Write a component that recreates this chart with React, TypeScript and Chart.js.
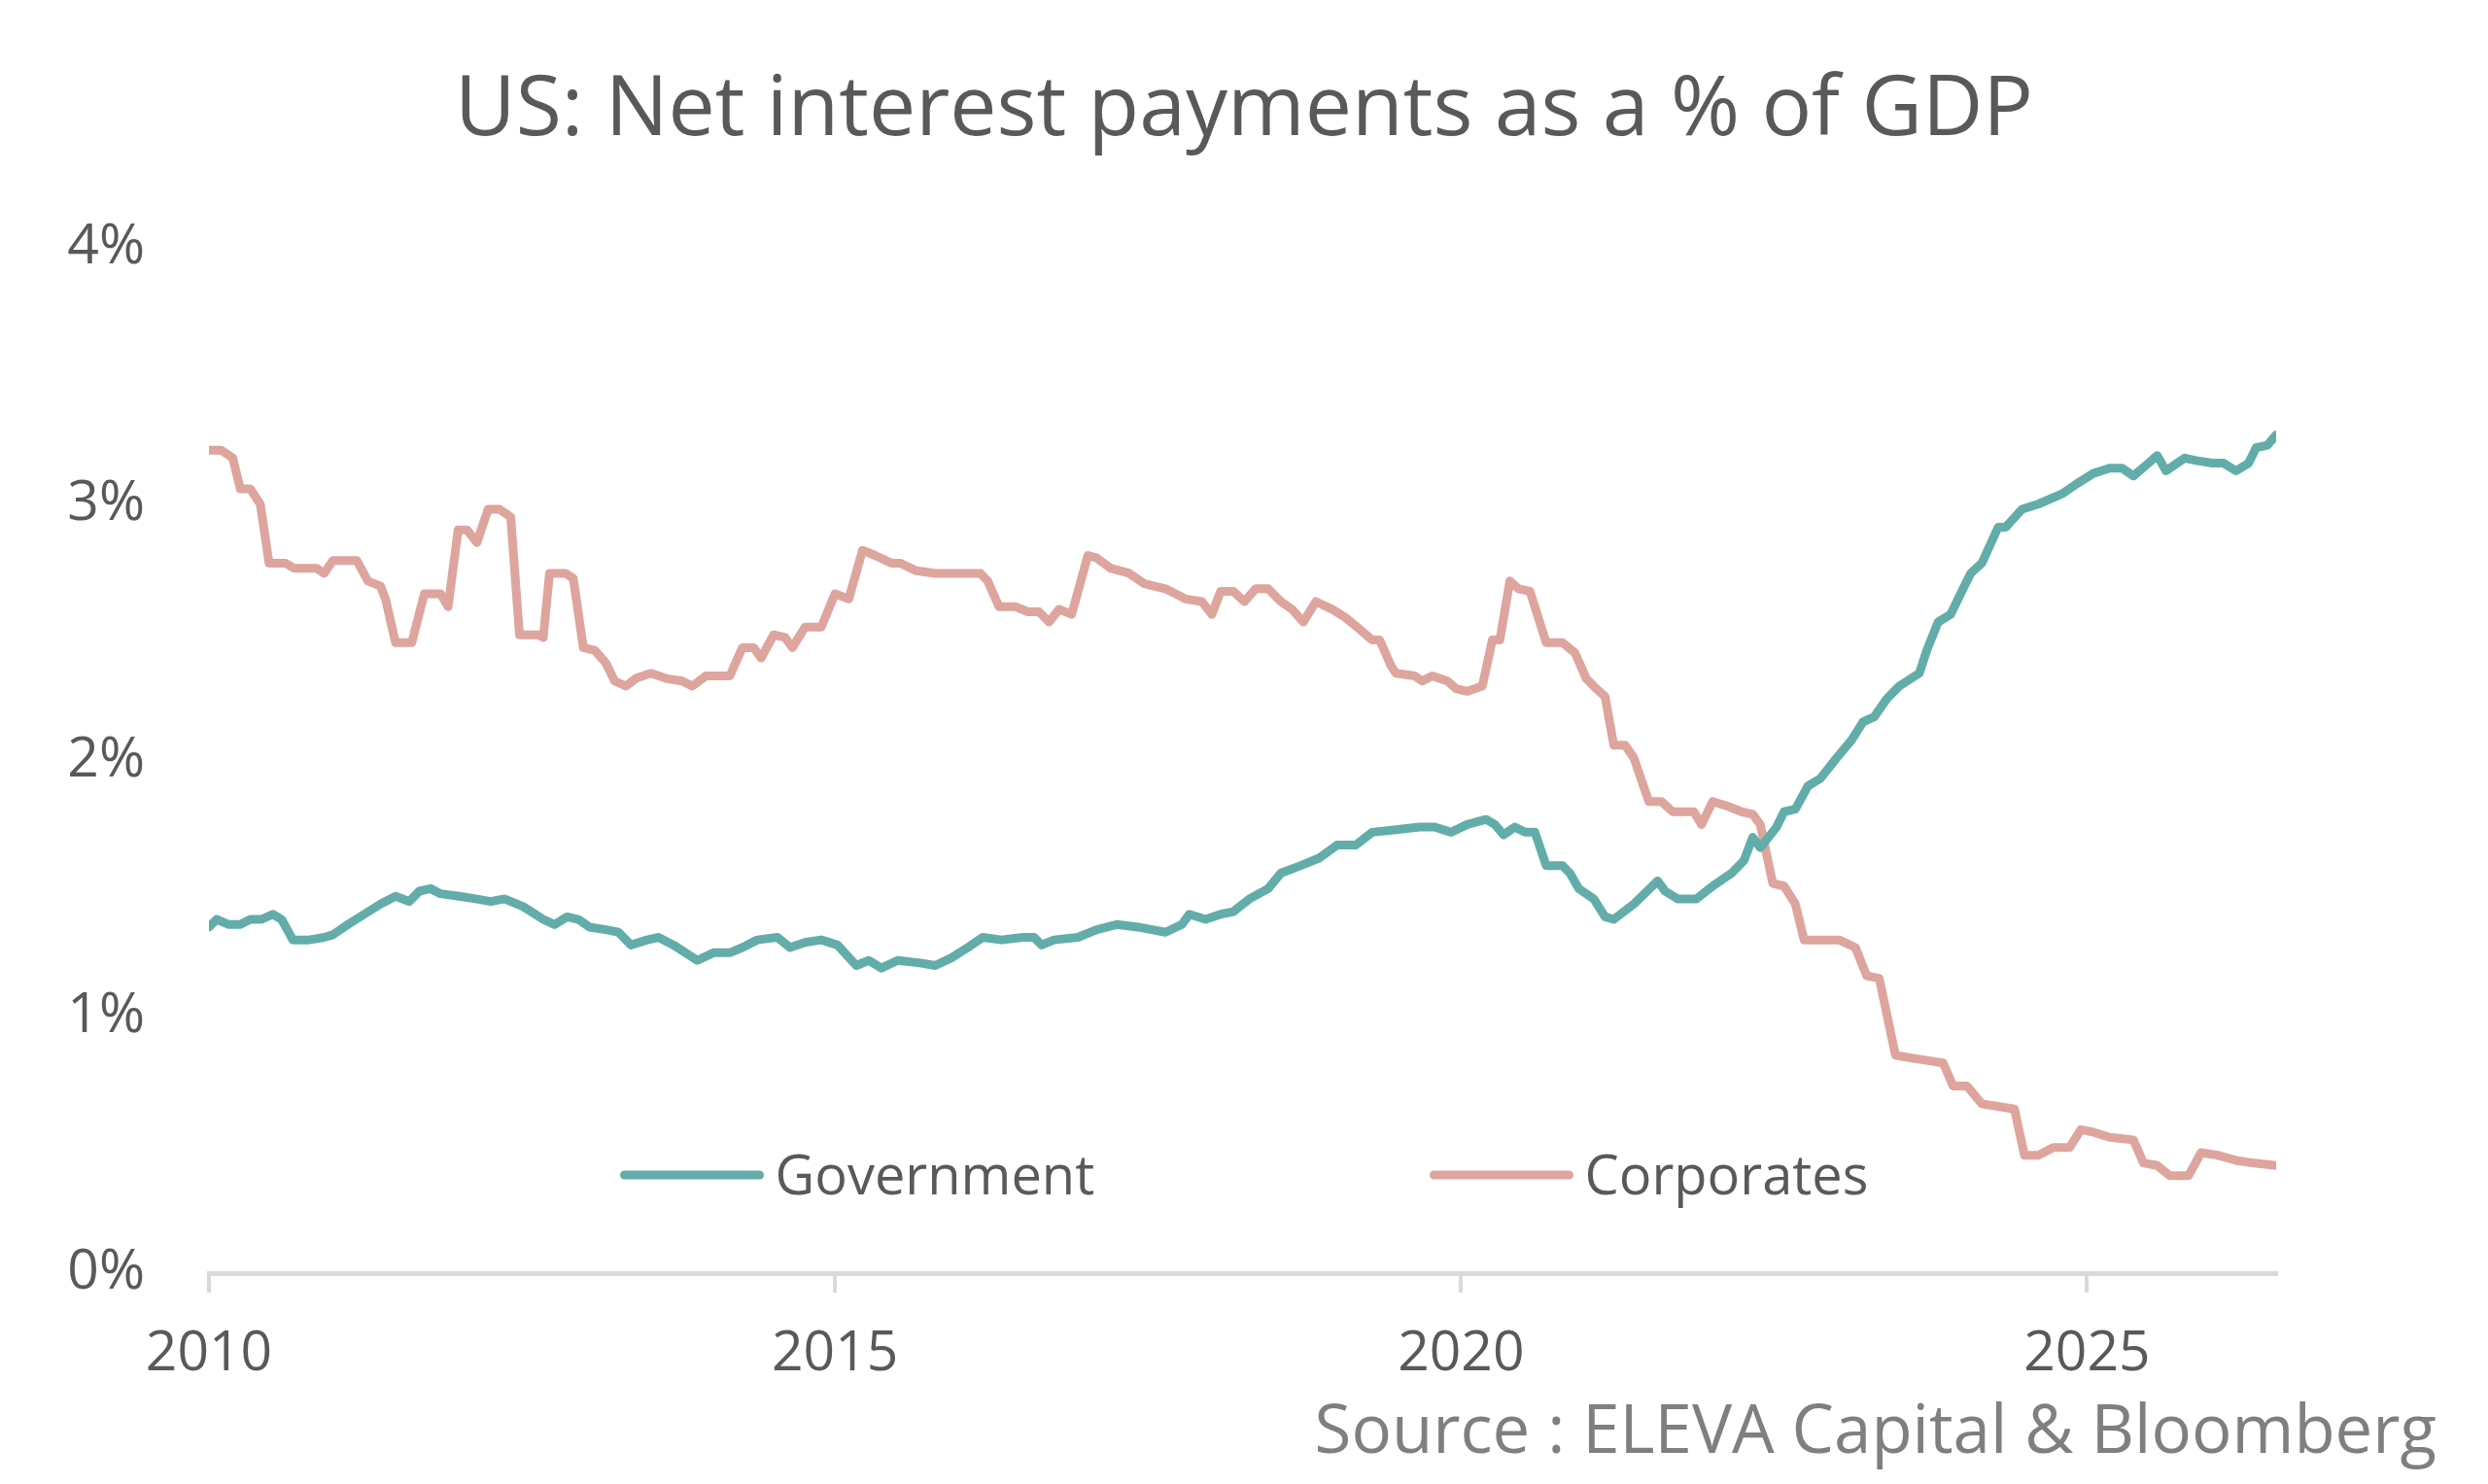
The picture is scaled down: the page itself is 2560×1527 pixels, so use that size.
import { useEffect, useRef } from 'react';
import { Chart, registerables, type Plugin } from 'chart.js';

Chart.register(...registerables);

const TITLE = 'US: Net interest payments as a % of GDP';
const SOURCE = 'Source : ELEVA Capital & Bloomberg';
const FONT = '"Open Sans", "Noto Sans", sans-serif';
const TEXT_COLOR = '#595959';

const xTicks = [2010, 2015, 2020, 2025];
const yTicks = [0, 1, 2, 3, 4];

// Government, % of GDP (decimal year -> value)
const govYears = [
  2010.0, 2010.06, 2010.16, 2010.25, 2010.33, 2010.42, 2010.51, 2010.58, 2010.67, 2010.8,
  2010.92, 2010.99, 2011.11, 2011.24, 2011.37, 2011.49, 2011.6, 2011.68, 2011.77, 2011.85,
  2012.0, 2012.13, 2012.25, 2012.36, 2012.51, 2012.67, 2012.76, 2012.86, 2012.95, 2013.04,
  2013.17, 2013.27, 2013.37, 2013.5, 2013.59, 2013.71, 2013.9, 2014.03, 2014.16, 2014.26,
  2014.38, 2014.54, 2014.64, 2014.76, 2014.89, 2015.02, 2015.17, 2015.27, 2015.37, 2015.5,
  2015.68, 2015.8, 2015.93, 2016.06, 2016.18, 2016.33, 2016.5, 2016.59, 2016.65, 2016.75,
  2016.94, 2017.09, 2017.25, 2017.42, 2017.64, 2017.77, 2017.83, 2017.96, 2018.08, 2018.18,
  2018.31, 2018.46, 2018.56, 2018.72, 2018.87, 2019.01, 2019.16, 2019.29, 2019.48, 2019.67,
  2019.79, 2019.92, 2020.05, 2020.2, 2020.27, 2020.34, 2020.43, 2020.51, 2020.59, 2020.68,
  2020.81, 2020.87, 2020.94, 2021.06, 2021.15, 2021.22, 2021.38, 2021.57, 2021.63, 2021.73,
  2021.88, 2022.01, 2022.16, 2022.26, 2022.33, 2022.39, 2022.52, 2022.58, 2022.67, 2022.77,
  2022.87, 2023.0, 2023.12, 2023.21, 2023.3, 2023.4, 2023.5, 2023.66, 2023.72, 2023.81,
  2023.91, 2024.01, 2024.07, 2024.16, 2024.29, 2024.35, 2024.48, 2024.61, 2024.8, 2024.92,
  2025.05, 2025.18, 2025.28, 2025.37, 2025.49, 2025.56, 2025.63, 2025.78, 2025.87, 2026.0,
  2026.09, 2026.19, 2026.29, 2026.35, 2026.44, 2026.51,
];
const govValues = [
  1.35, 1.38, 1.36, 1.36, 1.38, 1.38, 1.4, 1.38, 1.3, 1.3,
  1.31, 1.32, 1.36, 1.4, 1.44, 1.47, 1.45, 1.49, 1.5, 1.48,
  1.47, 1.46, 1.45, 1.46, 1.43, 1.38, 1.36, 1.39, 1.38, 1.35,
  1.34, 1.33, 1.28, 1.3, 1.31, 1.28, 1.22, 1.25, 1.25, 1.27,
  1.3, 1.31, 1.27, 1.29, 1.3, 1.28, 1.2, 1.22, 1.19, 1.22,
  1.21, 1.2, 1.23, 1.27, 1.31, 1.3, 1.31, 1.31, 1.28, 1.3,
  1.31, 1.34, 1.36, 1.35, 1.33, 1.36, 1.4, 1.38, 1.4, 1.41,
  1.46, 1.5, 1.56, 1.59, 1.62, 1.67, 1.67, 1.72, 1.73, 1.74,
  1.74, 1.72, 1.75, 1.77, 1.75, 1.71, 1.74, 1.72, 1.72, 1.59,
  1.59, 1.56, 1.5, 1.46, 1.39, 1.38, 1.44, 1.53, 1.49, 1.46,
  1.46, 1.51, 1.56, 1.61, 1.7, 1.66, 1.74, 1.8, 1.81, 1.9,
  1.93, 2.01, 2.08, 2.15, 2.17, 2.24, 2.29, 2.34, 2.43, 2.54,
  2.57, 2.67, 2.73, 2.77, 2.91, 2.91, 2.98, 3.0, 3.04, 3.08,
  3.12, 3.14, 3.14, 3.11, 3.16, 3.19, 3.13, 3.18, 3.17, 3.16,
  3.16, 3.13, 3.16, 3.22, 3.23, 3.27,
];

// Corporates, % of GDP (decimal year -> value)
const corpYears = [
  2010.0, 2010.1, 2010.19, 2010.25, 2010.33, 2010.41, 2010.48, 2010.61, 2010.68, 2010.86,
  2010.92, 2010.99, 2011.18, 2011.27, 2011.37, 2011.41, 2011.49, 2011.62, 2011.72, 2011.85,
  2011.91, 2011.99, 2012.06, 2012.14, 2012.23, 2012.32, 2012.41, 2012.48, 2012.63, 2012.67,
  2012.72, 2012.85, 2012.91, 2012.99, 2013.08, 2013.17, 2013.24, 2013.33, 2013.41, 2013.53,
  2013.65, 2013.78, 2013.86, 2013.97, 2014.16, 2014.26, 2014.35, 2014.41, 2014.51, 2014.6,
  2014.66, 2014.76, 2014.89, 2015.0, 2015.11, 2015.22, 2015.32, 2015.45, 2015.52, 2015.65,
  2015.8, 2016.16, 2016.22, 2016.31, 2016.44, 2016.54, 2016.63, 2016.71, 2016.79, 2016.89,
  2017.02, 2017.09, 2017.2, 2017.35, 2017.47, 2017.64, 2017.8, 2017.93, 2018.01, 2018.08,
  2018.18, 2018.27, 2018.36, 2018.46, 2018.56, 2018.65, 2018.74, 2018.84, 2018.97, 2019.07,
  2019.17, 2019.29, 2019.35, 2019.44, 2019.48, 2019.63, 2019.69, 2019.77, 2019.89, 2019.96,
  2020.05, 2020.17, 2020.25, 2020.31, 2020.39, 2020.46, 2020.55, 2020.68, 2020.81, 2020.91,
  2021.0, 2021.08, 2021.15, 2021.22, 2021.31, 2021.38, 2021.5, 2021.6, 2021.69, 2021.86,
  2021.92, 2022.01, 2022.14, 2022.24, 2022.33, 2022.39, 2022.49, 2022.58, 2022.67, 2022.74,
  2022.83, 2023.02, 2023.15, 2023.24, 2023.34, 2023.47, 2023.59, 2023.72, 2023.85, 2023.93,
  2024.04, 2024.16, 2024.29, 2024.42, 2024.5, 2024.61, 2024.73, 2024.86, 2024.95, 2025.05,
  2025.18, 2025.37, 2025.45, 2025.56, 2025.66, 2025.81, 2025.91, 2026.04, 2026.19, 2026.32,
  2026.51,
];
const corpValues = [
  3.21, 3.21, 3.18, 3.06, 3.06, 3.0, 2.77, 2.77, 2.75, 2.75,
  2.73, 2.78, 2.78, 2.7, 2.68, 2.63, 2.46, 2.46, 2.65, 2.65,
  2.6, 2.9, 2.9, 2.85, 2.98, 2.98, 2.95, 2.49, 2.49, 2.48,
  2.73, 2.73, 2.71, 2.44, 2.43, 2.38, 2.31, 2.29, 2.32, 2.34,
  2.32, 2.31, 2.29, 2.33, 2.33, 2.44, 2.44, 2.4, 2.49, 2.48,
  2.44, 2.52, 2.52, 2.65, 2.63, 2.82, 2.8, 2.77, 2.77, 2.74,
  2.73, 2.73, 2.7, 2.6, 2.6, 2.58, 2.58, 2.54, 2.59, 2.57,
  2.8, 2.79, 2.75, 2.73, 2.69, 2.67, 2.63, 2.62, 2.57, 2.66,
  2.66, 2.62, 2.67, 2.67, 2.62, 2.59, 2.54, 2.62, 2.59, 2.56,
  2.52, 2.47, 2.47, 2.37, 2.34, 2.33, 2.31, 2.33, 2.31, 2.28,
  2.27, 2.29, 2.47, 2.47, 2.7, 2.67, 2.66, 2.46, 2.46, 2.42,
  2.32, 2.28, 2.25, 2.06, 2.06, 2.01, 1.84, 1.84, 1.8, 1.8,
  1.75, 1.84, 1.82, 1.8, 1.79, 1.75, 1.52, 1.51, 1.44, 1.3,
  1.3, 1.3, 1.27, 1.16, 1.15, 0.85, 0.84, 0.83, 0.82, 0.73,
  0.73, 0.66, 0.65, 0.64, 0.46, 0.46, 0.49, 0.49, 0.56, 0.55,
  0.53, 0.52, 0.43, 0.42, 0.38, 0.38, 0.47, 0.46, 0.44, 0.43,
  0.42,
];

const GOV_COLOR = '#62ada9';
const CORP_COLOR = '#dda59e';

const toPoints = (xs: number[], ys: number[]) => xs.map((x, i) => ({ x, y: ys[i] }));

// title, legend inside the plot area and the source note, drawn on the canvas
const extrasPlugin: Plugin<'line'> = {
  id: 'extras',
  afterDraw(chart) {
    const { ctx, chartArea, width } = chart;
    ctx.save();

    ctx.font = `86px ${FONT}`;
    ctx.fillStyle = TEXT_COLOR;
    ctx.textAlign = 'center';
    ctx.textBaseline = 'alphabetic';
    ctx.fillText(TITLE, width / 2, 139);

    ctx.font = `56px ${FONT}`;
    ctx.textBaseline = 'middle';
    const lineLen = 147;
    const textGap = 12;
    const mid = (chartArea.left + chartArea.right) / 2;
    const starts = [mid - 640, mid + 193];
    const y = chartArea.bottom - 101;
    chart.data.datasets.forEach((ds, i) => {
      const x = starts[i];
      ctx.strokeStyle = ds.borderColor as string;
      ctx.lineWidth = 9;
      ctx.lineCap = 'round';
      ctx.beginPath();
      ctx.moveTo(x + 4, y);
      ctx.lineTo(x + lineLen - 4, y);
      ctx.stroke();
      ctx.fillStyle = TEXT_COLOR;
      ctx.textAlign = 'left';
      ctx.fillText(ds.label as string, x + lineLen + textGap, y + 4);
    });

    ctx.font = `69px ${FONT}`;
    ctx.fillStyle = '#7f7f7f';
    ctx.textAlign = 'right';
    ctx.textBaseline = 'alphabetic';
    ctx.fillText(SOURCE, 2507, 1495);
    ctx.restore();
  },
};

function LineChart() {
  const canvasRef = useRef<HTMLCanvasElement>(null);
  const chartRef = useRef<Chart | null>(null);

  useEffect(() => {
    if (!canvasRef.current) return;
    if (chartRef.current) {
      chartRef.current.destroy();
    }
    const ctx = canvasRef.current.getContext('2d');
    if (!ctx) return;

    chartRef.current = new Chart(ctx, {
      type: 'line',
      data: {
        datasets: [
          {
            label: 'Government',
            data: toPoints(govYears, govValues),
            borderColor: GOV_COLOR,
            backgroundColor: GOV_COLOR,
          },
          {
            label: 'Corporates',
            data: toPoints(corpYears, corpValues),
            borderColor: CORP_COLOR,
            backgroundColor: CORP_COLOR,
          },
        ],
      },
      options: {
        responsive: true,
        maintainAspectRatio: false,
        animation: false,
        layout: { padding: { top: 255, right: 218, bottom: 0, left: 0 } },
        elements: {
          point: { radius: 0 },
          line: { borderWidth: 9, tension: 0, borderJoinStyle: 'round', borderCapStyle: 'round' },
        },
        plugins: {
          legend: { display: false },
          tooltip: { enabled: false },
          title: { display: false },
        },
        scales: {
          x: {
            type: 'linear',
            min: 2010,
            max: 2026.51,
            afterBuildTicks: (scale) => {
              scale.ticks = xTicks.map((value) => ({ value }));
            },
            afterFit: (scale) => {
              scale.height = 217;
            },
            ticks: {
              color: TEXT_COLOR,
              font: { family: FONT, size: 57 },
              padding: 30,
              maxRotation: 0,
              callback: (v) => String(v),
            },
            grid: {
              drawOnChartArea: false,
              drawTicks: true,
              tickLength: 20,
              color: '#d9d9d9',
              lineWidth: 4,
            },
            border: { display: true, color: '#d9d9d9', width: 5 },
          },
          y: {
            min: 0,
            max: 4,
            afterBuildTicks: (scale) => {
              scale.ticks = yTicks.map((value) => ({ value }));
            },
            afterFit: (scale) => {
              scale.width = 215;
            },
            ticks: {
              color: TEXT_COLOR,
              font: { family: FONT, size: 57 },
              padding: 58,
              callback: (v) => `${v}%`,
            },
            grid: { display: false },
            border: { display: false },
          },
        },
      },
      plugins: [extrasPlugin],
    });

    return () => {
      if (chartRef.current) {
        chartRef.current.destroy();
        chartRef.current = null;
      }
    };
  }, []);

  return <canvas ref={canvasRef} />;
}

export default function App() {
  useEffect(() => {
    document.body.style.margin = '0';
  }, []);

  return (
    <div style={{ width: 2560, height: 1527, background: '#ffffff', position: 'relative' }}>
      <LineChart />
    </div>
  );
}
